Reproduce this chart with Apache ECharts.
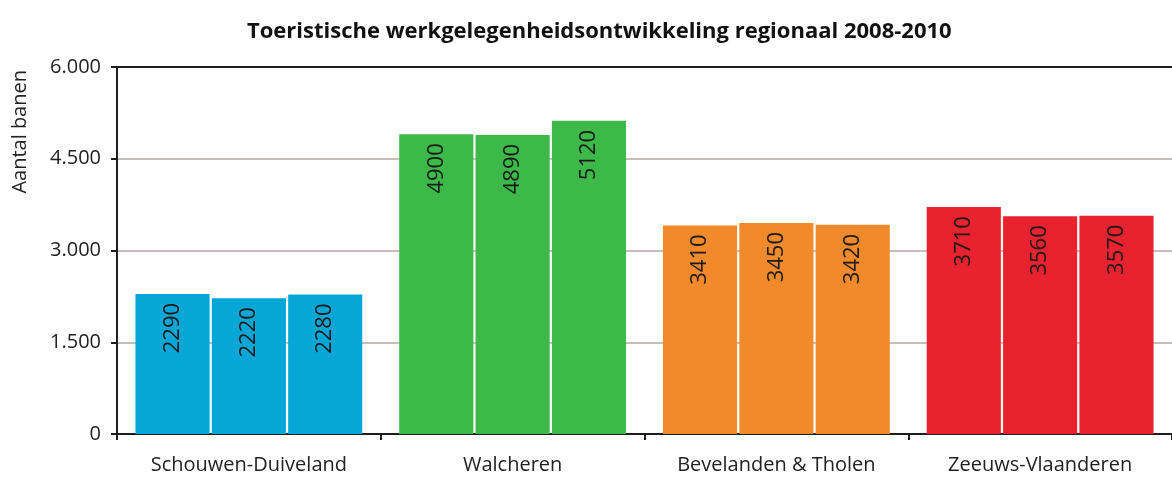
<!DOCTYPE html>
<html>
<head>
<meta charset="utf-8">
<script src="https://cdn.jsdelivr.net/npm/echarts@6/dist/echarts.min.js"></script>
<style>
html,body{margin:0;padding:0;background:#fff;}
#chart{width:1172px;height:477px;}
</style>
</head>
<body>
<div id="chart"></div>
<script>
var categories = ['Schouwen-Duiveland', 'Walcheren', 'Bevelanden & Tholen', 'Zeeuws-Vlaanderen'];
var years = ['2008', '2009', '2010'];
var values2008 = [2290, 4900, 3410, 3710];
var values2009 = [2220, 4890, 3450, 3560];
var values2010 = [2280, 5120, 3420, 3570];
var regionColors = ['#06a6d6', '#3db94a', '#f28a2b', '#e8232f'];
var yTicks = [0, 1500, 3000, 4500, 6000];

var chart = echarts.init(document.getElementById('chart'));
var fontFam = '"Open Sans", Lato, sans-serif';

function makeSeries(name, data) {
  return {
    name: name,
    type: 'bar',
    data: data,
    barGap: '3%',
    barCategoryGap: '14%',
    itemStyle: {
      color: function (p) { return regionColors[p.dataIndex]; }
    },
    label: {
      show: true,
      position: 'insideTop',
      rotate: 90,
      align: 'right',
      verticalAlign: 'middle',
      distance: 9,
      color: '#1a1a1a',
      fontFamily: fontFam,
      fontSize: 22
    }
  };
}

var option = {
  backgroundColor: '#ffffff',
  animation: false,
  title: {
    text: 'Toeristische werkgelegenheidsontwikkeling regionaal 2008-2010',
    left: 242,
    top: 16,
    textStyle: { fontFamily: fontFam, fontWeight: 'bold', fontSize: 22, color: '#111' }
  },
  graphic: [{
    type: 'text',
    left: 10,
    top: 70,
    rotation: Math.PI / 2,
    style: { text: 'Aantal banen', fontFamily: fontFam, fontSize: 20, fill: '#222' }
  }],
  grid: { left: 117, top: 67, width: 1064, height: 367, containLabel: false },
  xAxis: [{
    type: 'category',
    data: categories,
    axisLine: { show: true, lineStyle: { color: '#1e1e1e', width: 2 } },
    axisTick: { show: true, length: 6, lineStyle: { color: '#1e1e1e', width: 2 } },
    axisLabel: { fontFamily: fontFam, fontSize: 20, color: '#222', margin: 21 }
  }, {
    type: 'category',
    data: categories,
    position: 'top',
    axisLine: { show: true, lineStyle: { color: '#1e1e1e', width: 2 } },
    axisTick: { show: false },
    axisLabel: { show: false }
  }],
  yAxis: {
    type: 'value',
    min: yTicks[0],
    max: yTicks[yTicks.length - 1],
    interval: 1500,
    axisLine: { show: true, lineStyle: { color: '#1e1e1e', width: 2 } },
    axisTick: { show: true, length: 6, lineStyle: { color: '#1e1e1e', width: 2 } },
    axisLabel: {
      fontFamily: fontFam, fontSize: 20, color: '#222', margin: 16,
      formatter: function (v) { return v === 0 ? '0' : (v / 1000).toFixed(3); }
    },
    splitLine: { show: true, lineStyle: { color: '#c9bdbc', width: 2 } }
  },
  series: [
    makeSeries(years[0], values2008),
    makeSeries(years[1], values2009),
    makeSeries(years[2], values2010)
  ]
};
chart.setOption(option);
</script>
</body>
</html>
